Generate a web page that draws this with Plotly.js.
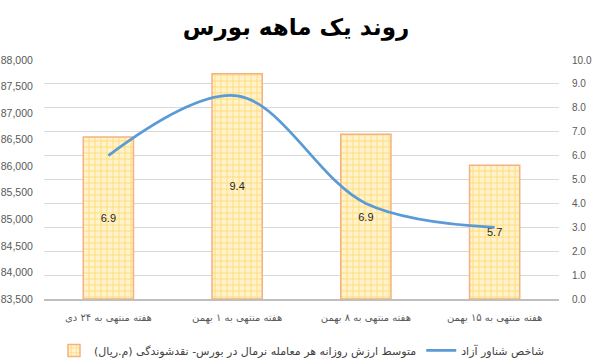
<!DOCTYPE html>
<html>
<head>
<meta charset="utf-8">
<script src="https://cdn.plot.ly/plotly-3.0.1.min.js"></script>
<style>html,body{margin:0;padding:0;background:#fff;}#chart{width:592px;height:364px;}</style>
</head>
<body>
<div id="chart"></div>
<script>
const categories = ["هفته منتهی به ۲۴ دی", "هفته منتهی به ۱ بهمن", "هفته منتهی به ۸ بهمن", "هفته منتهی به ۱۵ بهمن"];
const barValues = [86550, 87740, 86600, 86020];
const barLabels = ["6.9", "9.4", "6.9", "5.7"];
const lineValues = [6.0, 8.5, 4.0, 3.0];
const barName = "متوسط ارزش روزانه هر معامله نرمال در بورس- نقدشوندگی (م.ریال)";
const lineName = "شاخص شناور آزاد";
const titleText = "روند یک ماهه بورس";
const leftTicks = [83500, 84000, 84500, 85000, 85500, 86000, 86500, 87000, 87500, 88000];
const rightTicks = [0, 1, 2, 3, 4, 5, 6, 7, 8, 9, 10];
const leftMin = 83500, leftMax = 88000;

const faFont = "DejaVu Sans, Noto Sans, sans-serif";
const numFont = "Liberation Sans, Arial, sans-serif";

const traces = [
  {
    type: "bar",
    name: barName,
    x: categories,
    base: leftMin,
    y: barValues.map(v => v - leftMin),
    text: barLabels,
    texttemplate: "%{text}",
    textposition: "inside",
    insidetextanchor: "middle",
    textangle: 0,
    textfont: {family: numFont, size: 11, color: "#262626"},
    hoverinfo: "skip",
    marker: {
      color: "#FFF2CC",
      line: {color: "#F4B183", width: 1.5},
      pattern: {shape: "+", fgcolor: "#FFD966", bgcolor: "#FFF2CC", size: 6, solidity: 0.25, fillmode: "replace"}
    },
    yaxis: "y"
  },
  {
    type: "scatter",
    mode: "lines",
    name: lineName,
    x: categories,
    y: lineValues,
    line: {color: "#5B9BD5", width: 2.75, shape: "spline", smoothing: 1},
    yaxis: "y2"
  }
];

const layout = {
  width: 592,
  height: 364,
  margin: {l: 44, r: 33, t: 60, b: 65, autoexpand: false},
  paper_bgcolor: "#ffffff",
  plot_bgcolor: "#ffffff",
  title: {
    text: "<b>" + titleText + "</b>",
    font: {family: faFont, size: 23, color: "#000000"},
    x: 0.5, xanchor: "center", y: 0.925, yanchor: "middle"
  },
  bargap: 0.61,
  showlegend: true,
  legend: {
    orientation: "h",
    x: 0.5, xanchor: "center",
    y: -0.215, yanchor: "middle",
    font: {family: faFont, size: 11, color: "#404040"},
    traceorder: "normal",
    itemwidth: 30
  },
  xaxis: {
    type: "category",
    automargin: false,
    showgrid: false,
    showline: true,
    linecolor: "#BFBFBF",
    linewidth: 2,
    ticks: "outside",
    ticklen: 8,
    tickcolor: "rgba(0,0,0,0)",
    tickfont: {family: faFont, size: 10, color: "#595959"},
    fixedrange: true
  },
  yaxis: {
    range: [leftMin, leftMax],
    automargin: false,
    tickvals: leftTicks,
    tickformat: ",d",
    showgrid: false,
    zeroline: false,
    showline: false,
    ticks: "outside",
    ticklen: 8,
    tickcolor: "rgba(0,0,0,0)",
    tickfont: {family: numFont, size: 10.5, color: "#595959"}
  },
  yaxis2: {
    range: [0, 10],
    automargin: false,
    tickvals: rightTicks,
    tickformat: ".1f",
    overlaying: "y",
    side: "right",
    showgrid: true,
    gridcolor: "#D9D9D9",
    gridwidth: 1,
    zeroline: false,
    showline: false,
    ticks: "outside",
    ticklen: 10,
    tickcolor: "rgba(0,0,0,0)",
    tickfont: {family: numFont, size: 10, color: "#595959"}
  }
};

Plotly.newPlot("chart", traces, layout, {displayModeBar: false, staticPlot: true});
</script>
</body>
</html>
